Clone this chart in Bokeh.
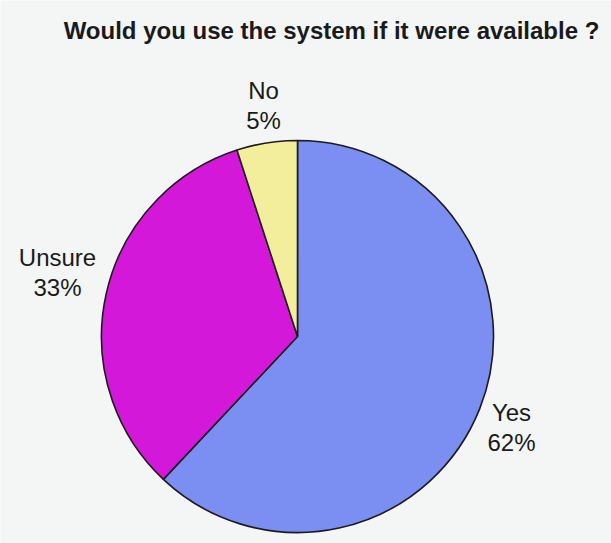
import math
from bokeh.plotting import figure
from bokeh.models import Range1d, ColumnDataSource
from bokeh.core.properties import value
from bokeh.embed import file_html
from bokeh.resources import INLINE

title = "Would you use the system if it were available ?"
categories = ["Yes", "Unsure", "No"]
percents = [62, 33, 5]
colors = ["#7b8ff2", "#d418da", "#f2ee9c"]

W, H = 611, 543
cx, cy, r = 297, H - 336, 196

# cumulative angles, starting at 12 o'clock and going clockwise
starts, ends = [], []
acc = 0.0
total = sum(percents)
for v in percents:
    a0 = math.pi / 2 - 2 * math.pi * acc / total
    acc += v
    a1 = math.pi / 2 - 2 * math.pi * acc / total
    starts.append(a0)
    ends.append(a1)

src = ColumnDataSource(dict(cat=categories, start=starts, end=ends, color=colors))

p = figure(width=W, height=H, output_backend="svg", toolbar_location=None,
           x_range=Range1d(0, W), y_range=Range1d(0, H), min_border=0,
           background_fill_color="#f3f6f5", border_fill_color="#f3f6f5",
           outline_line_color=None)
p.axis.visible = False
p.grid.visible = False

p.wedge(x=cx, y=cy, radius=r, start_angle="start", end_angle="end",
        direction="clock", fill_color="color", line_color="#1e1a1e",
        line_width=1.6, source=src)

# label positions (centres of label blocks)
label_x = [511, 57, 263]
label_y = [H - 398, H - 243, H - 76]
labels = [f"{c}\n{v}%" for c, v in zip(categories, percents)]
p.text(x=label_x, y=label_y, text=labels, text_align="center", text_baseline="top",
       text_font=value("Liberation Sans"), text_font_size="24px",
       text_color="#1a1a1a", text_line_height=1.12)

p.text(x=[331], y=[H - 16], text=[title], text_align="center", text_baseline="top",
       text_font=value("Liberation Sans"), text_font_size="24px",
       text_font_style="bold", text_color="#1a1a1a")

open("out.html", "w").write(file_html(p, INLINE))
